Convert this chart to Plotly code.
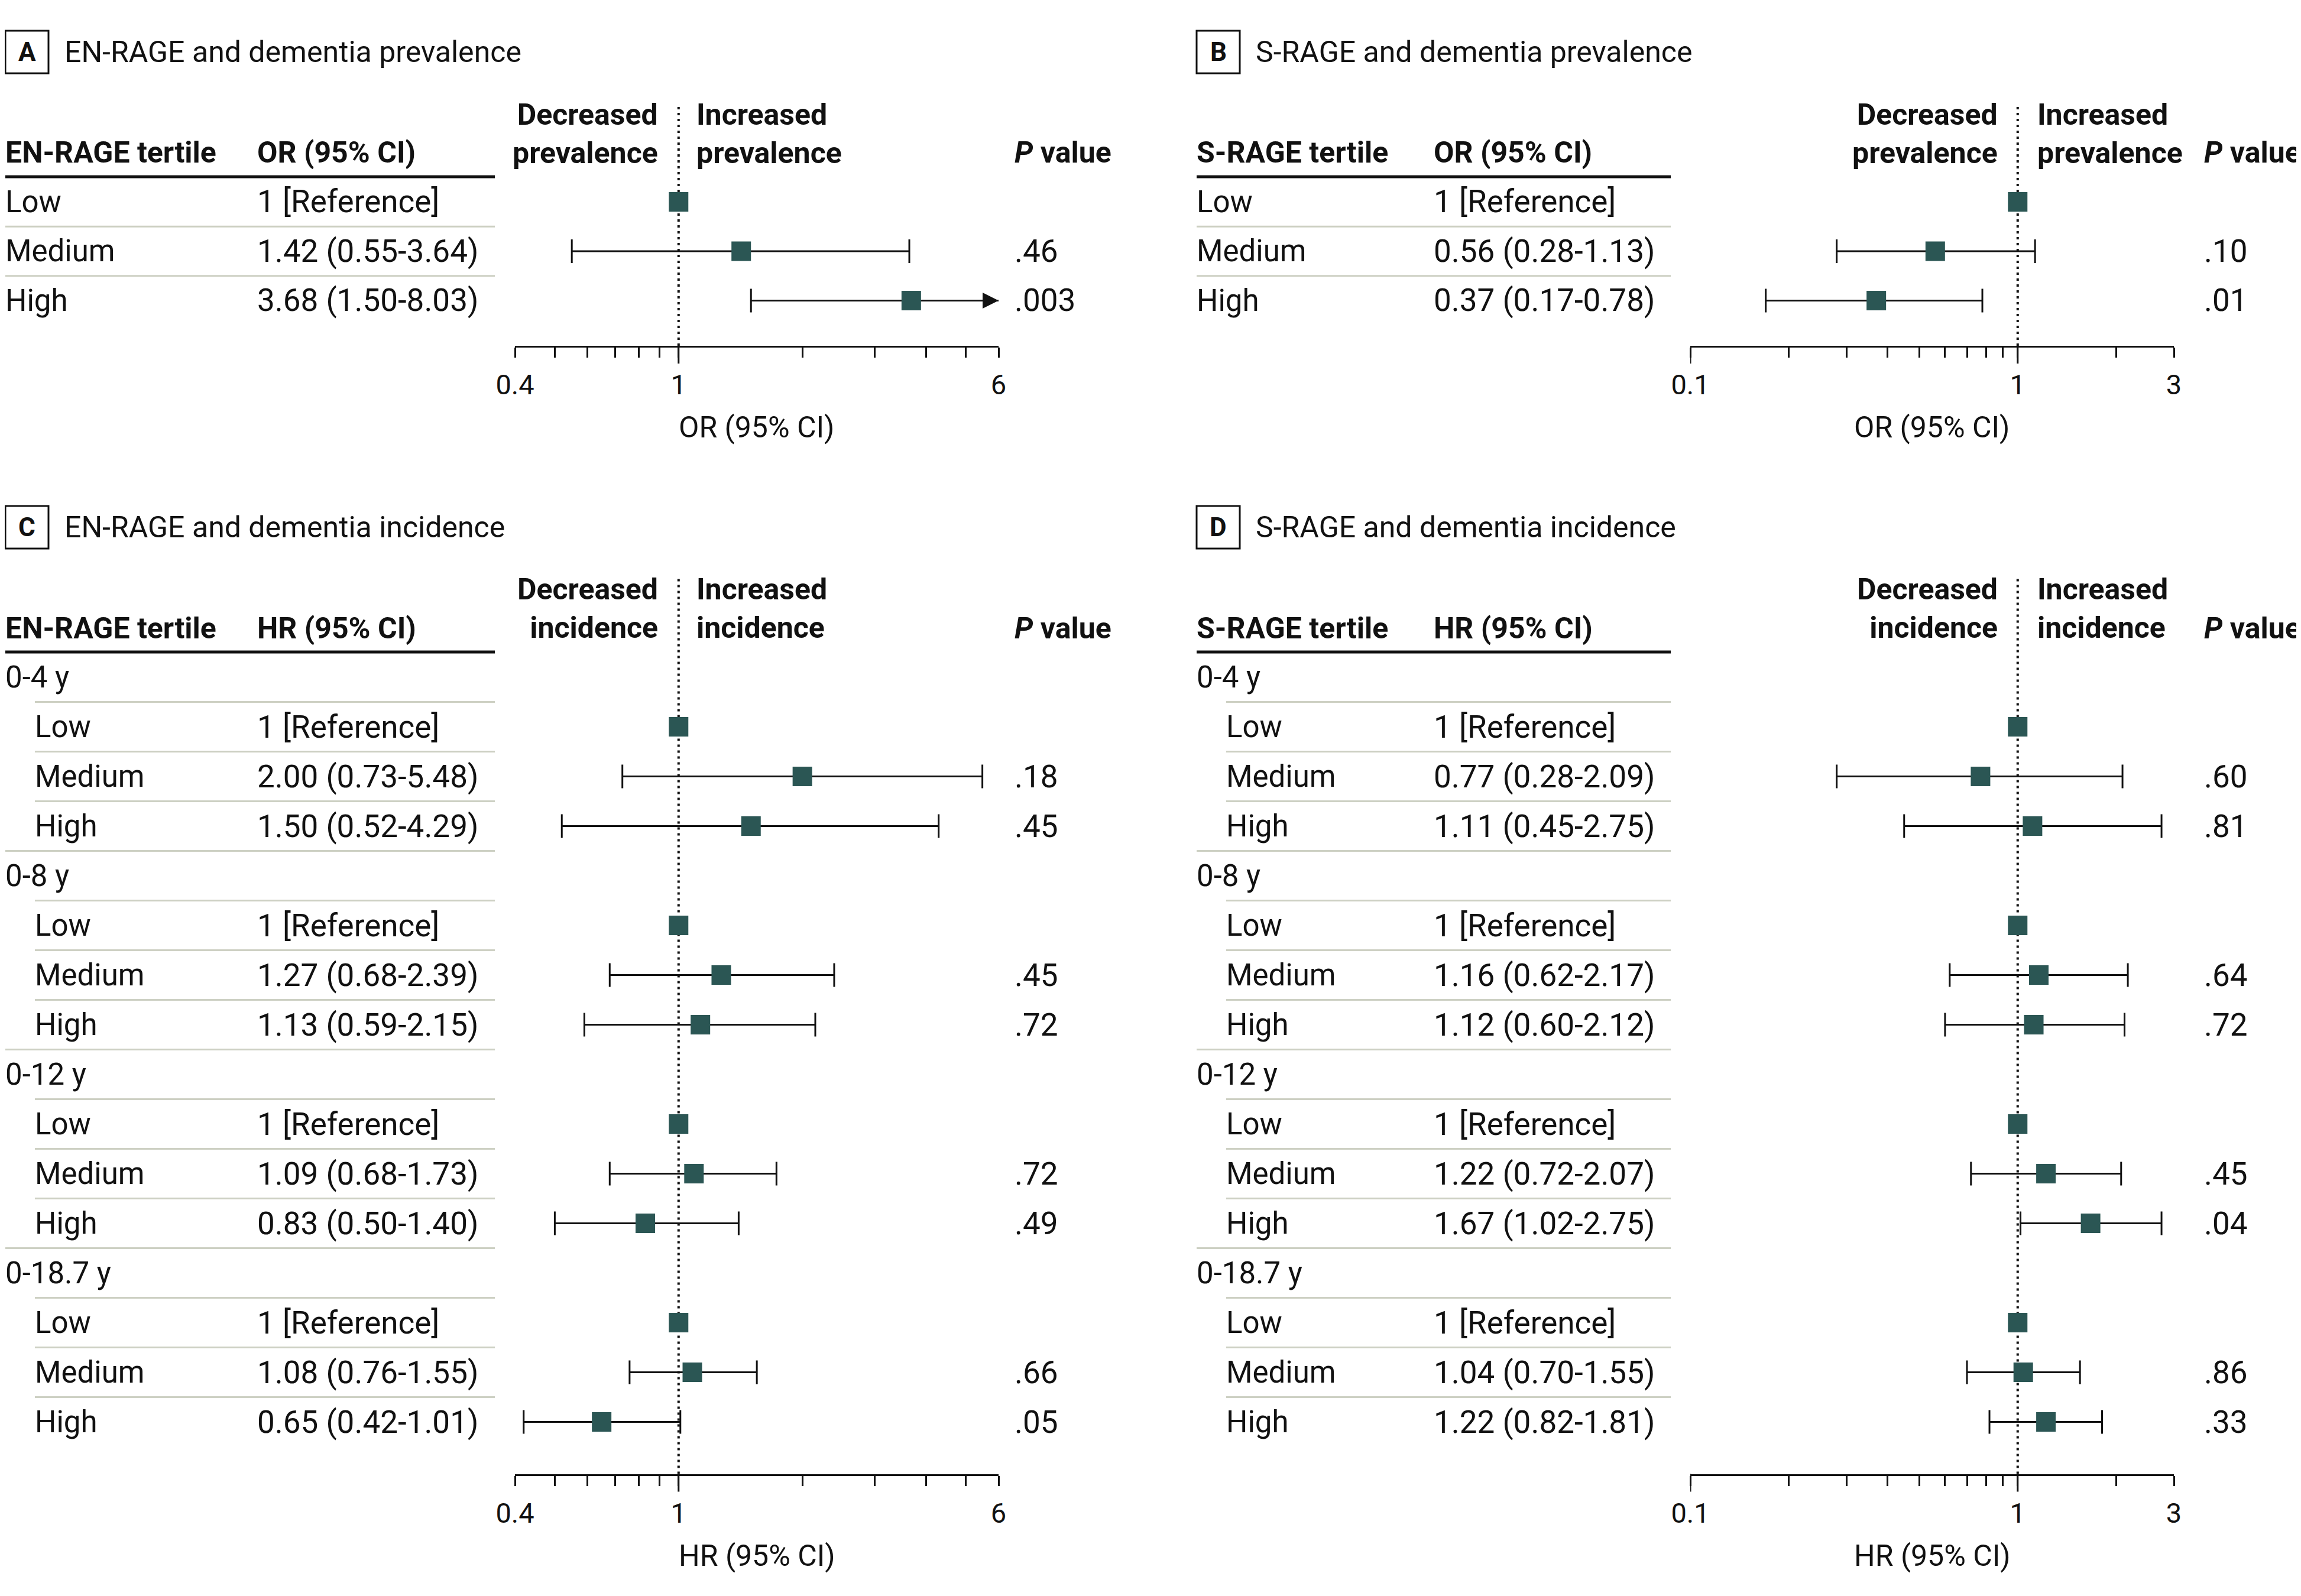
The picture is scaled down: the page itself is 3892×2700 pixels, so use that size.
import math
import plotly.graph_objects as go

W, H = 3892, 2700
OFF = 8  # page body margin compensation (px)
FONT = "Roboto"
INK = "#111111"
TEAL = "#2b5654"
RULE = "#cdd0c3"

# ---------------- data ----------------
tertiles = ["Low", "Medium", "High"]
periods = ["0-4 y", "0-8 y", "0-12 y", "0-18.7 y"]

# A: EN-RAGE and dementia prevalence (OR)
a_est = [1.0, 1.42, 3.68]
a_lo = [None, 0.55, 1.50]
a_hi = [None, 3.64, 8.03]
a_p = ["", ".46", ".003"]

# B: S-RAGE and dementia prevalence (OR)
b_est = [1.0, 0.56, 0.37]
b_lo = [None, 0.28, 0.17]
b_hi = [None, 1.13, 0.78]
b_p = ["", ".10", ".01"]

# C: EN-RAGE and dementia incidence (HR), per follow-up period
c_est = [1.0, 2.00, 1.50, 1.0, 1.27, 1.13, 1.0, 1.09, 0.83, 1.0, 1.08, 0.65]
c_lo = [None, 0.73, 0.52, None, 0.68, 0.59, None, 0.68, 0.50, None, 0.76, 0.42]
c_hi = [None, 5.48, 4.29, None, 2.39, 2.15, None, 1.73, 1.40, None, 1.55, 1.01]
c_p = ["", ".18", ".45", "", ".45", ".72", "", ".72", ".49", "", ".66", ".05"]

# D: S-RAGE and dementia incidence (HR), per follow-up period
d_est = [1.0, 0.77, 1.11, 1.0, 1.16, 1.12, 1.0, 1.22, 1.67, 1.0, 1.04, 1.22]
d_lo = [None, 0.28, 0.45, None, 0.62, 0.60, None, 0.72, 1.02, None, 0.70, 0.82]
d_hi = [None, 2.09, 2.75, None, 2.17, 2.12, None, 2.07, 2.75, None, 1.55, 1.81]
d_p = ["", ".60", ".81", "", ".64", ".72", "", ".45", ".04", "", ".86", ".33"]

# axis ticks
en_ticks = [0.4, 0.5, 0.6, 0.7, 0.8, 0.9, 1, 2, 3, 4, 5, 6]
en_labels = ["0.4", "", "", "", "", "", "1", "", "", "", "", "6"]
s_ticks = [0.1, 0.2, 0.3, 0.4, 0.5, 0.6, 0.7, 0.8, 0.9, 1, 2, 3]
s_labels = ["0.1", "", "", "", "", "", "", "", "", "1", "", "3"]


# ---------------- helpers ----------------
def X(px):
    return (px - OFF) / W


def Y(py):
    return 1 - (py - OFF) / H


def fmt_ci(est, lo, hi):
    if lo is None:
        return "1 [Reference]"
    return f"{est:.2f} ({lo:.2f}-{hi:.2f})"


def rows_simple(est, lo, hi, p):
    rows = []
    for i, t in enumerate(tertiles):
        rows.append(dict(label=t, indent=False, group=False, est=est[i], lo=lo[i], hi=hi[i], p=p[i]))
    return rows


def rows_grouped(est, lo, hi, p):
    rows = []
    for k, per in enumerate(periods):
        rows.append(dict(label=per, indent=False, group=True, est=None, lo=None, hi=None, p=""))
        for j, t in enumerate(tertiles):
            i = 3 * k + j
            rows.append(dict(label=t, indent=True, group=False, est=est[i], lo=lo[i], hi=hi[i], p=p[i]))
    return rows


annotations = []
shapes = []


def text(t, x, y, size=50, bold=False, xanchor="left", yanchor="middle", xref="paper",
         yref="paper", align="left"):
    if bold:
        t = f"<b>{t}</b>"
    annotations.append(dict(
        text=t, x=X(x) if xref == "paper" else x, y=Y(y) if yref == "paper" else y,
        xref=xref, yref=yref, xanchor=xanchor, yanchor=yanchor, align=align,
        showarrow=False, borderpad=0, borderwidth=0,
        font=dict(family=FONT, size=size, color=INK)))


panels = [
    dict(n=1, letter="A", title="EN-RAGE and dementia prevalence", h1="EN-RAGE tertile",
         h2="OR (95% CI)", effect="prevalence", rows=rows_simple(a_est, a_lo, a_hi, a_p),
         xr=(0.4, 6), ticks=en_ticks, labels=en_labels, decades=[1],
         left=9, col2=435, rule_end=837, ax0=871, ax1=1689, dec=1113, inc=1178, pcol=1716,
         dy=0, rowh=83.5, axis_y=585),
    dict(n=2, letter="B", title="S-RAGE and dementia prevalence", h1="S-RAGE tertile",
         h2="OR (95% CI)", effect="prevalence", rows=rows_simple(b_est, b_lo, b_hi, b_p),
         xr=(0.1, 3), ticks=s_ticks, labels=s_labels, decades=[0.1, 1],
         left=2024, col2=2425, rule_end=2826, ax0=2859, ax1=3677, dec=3379, inc=3446, pcol=3728,
         dy=0, rowh=83.5, axis_y=585),
    dict(n=3, letter="C", title="EN-RAGE and dementia incidence", h1="EN-RAGE tertile",
         h2="HR (95% CI)", effect="incidence", rows=rows_grouped(c_est, c_lo, c_hi, c_p),
         xr=(0.4, 6), ticks=en_ticks, labels=en_labels, decades=[1],
         left=9, col2=435, rule_end=837, ax0=871, ax1=1689, dec=1113, inc=1178, pcol=1716,
         dy=804, rowh=84, axis_y=2493.5),
    dict(n=4, letter="D", title="S-RAGE and dementia incidence", h1="S-RAGE tertile",
         h2="HR (95% CI)", effect="incidence", rows=rows_grouped(d_est, d_lo, d_hi, d_p),
         xr=(0.1, 3), ticks=s_ticks, labels=s_labels, decades=[0.1, 1],
         left=2024, col2=2425, rule_end=2826, ax0=2859, ax1=3677, dec=3379, inc=3446, pcol=3728,
         dy=804, rowh=84, axis_y=2493.5),
]

fig = go.Figure()
layout_axes = {}

for P in panels:
    n = P["n"]
    xa = "x" if n == 1 else f"x{n}"
    ya = "y" if n == 1 else f"y{n}"
    xkey = "xaxis" if n == 1 else f"xaxis{n}"
    ykey = "yaxis" if n == 1 else f"yaxis{n}"
    dy = P["dy"]
    row0 = 341.5 + dy
    rowh = P["rowh"]
    top = 175 + dy
    axis_y = P["axis_y"]
    rows = P["rows"]
    ind = 50

    # --- panel label box and title ---
    shapes.append(dict(type="rect", xref="paper", yref="paper",
                       x0=X(P["left"]), x1=X(P["left"] + 73), y0=Y(52 + dy), y1=Y(124 + dy),
                       line=dict(color=INK, width=3)))
    text(P["letter"], P["left"] + 36.5, 88 + dy, size=44, bold=True, xanchor="center")
    text(P["title"], P["left"] + 100, 88 + dy, size=50)

    # --- column headers ---
    text(P["h1"], P["left"], 258.5 + dy, bold=True)
    text(P["h2"], P["col2"], 258.5 + dy, bold=True)
    text("<i>P</i> value", P["pcol"], 258.5 + dy, bold=True)
    text(f"Decreased<br>{P['effect']}", P["dec"], 226 + dy, bold=True, xanchor="right", align="right")
    text(f"Increased<br>{P['effect']}", P["inc"], 226 + dy, bold=True, xanchor="left", align="left")
    shapes.append(dict(type="line", xref="paper", yref="paper",
                       x0=X(P["left"]), x1=X(P["rule_end"]), y0=Y(299 + dy), y1=Y(299 + dy),
                       line=dict(color=INK, width=5)))

    # --- table rows ---
    for i, r in enumerate(rows):
        yv = -i
        lx = P["left"] + (ind if r["indent"] else 0)
        text(r["label"], lx, yv, yref=ya, size=51)
        if not r["group"]:
            text(fmt_ci(r["est"], r["lo"], r["hi"]), P["col2"], yv, yref=ya, size=53)
            if r["p"]:
                text(r["p"], P["pcol"], yv, yref=ya, size=53)
        if i > 0:
            sx = P["left"] + (ind if r["indent"] else 0)
            shapes.append(dict(type="line", xref="paper", yref=ya,
                               x0=X(sx), x1=X(P["rule_end"]), y0=-(i - 0.5), y1=-(i - 0.5),
                               line=dict(color=RULE, width=3)))

    # --- forest plot traces ---
    ref_x, ref_y = [], []
    ci_x, ci_y, e_plus, e_minus = [], [], [], []
    for i, r in enumerate(rows):
        if r["group"]:
            continue
        if r["lo"] is None:
            ref_x.append(r["est"])
            ref_y.append(-i)
        else:
            ci_x.append(r["est"])
            ci_y.append(-i)
            e_plus.append(r["hi"] - r["est"])
            e_minus.append(r["est"] - r["lo"])
            if r["hi"] > P["xr"][1]:
                annotations.append(dict(
                    x=math.log10(P["xr"][1]), y=-i, xref=xa, yref=ya, text="",
                    showarrow=True, ax=-80, ay=0, arrowhead=2, arrowsize=1.8,
                    arrowwidth=3, arrowcolor=INK, standoff=0))
    fig.add_trace(go.Scatter(
        x=ci_x, y=ci_y, xaxis=xa, yaxis=ya, mode="markers",
        marker=dict(symbol="square", size=33, color=TEAL, line=dict(width=0)),
        error_x=dict(type="data", array=e_plus, arrayminus=e_minus, symmetric=False,
                     color=INK, thickness=3, width=20),
        hoverinfo="skip", showlegend=False))
    fig.add_trace(go.Scatter(
        x=ref_x, y=ref_y, xaxis=xa, yaxis=ya, mode="markers",
        marker=dict(symbol="square", size=33, color=TEAL, line=dict(width=0)),
        hoverinfo="skip", showlegend=False))

    # reference (null) line at ratio = 1 (shape positions on log axes are data values)
    shapes.append(dict(type="line", xref=xa, yref=f"{ya} domain", x0=1, x1=1, y0=0, y1=1,
                       line=dict(color=INK, width=4, dash="4px,6px"), layer="below"))
    # longer ticks at decades
    for d in P["decades"]:
        shapes.append(dict(type="line", xref=xa, yref="paper", x0=d, x1=d,
                           y0=Y(axis_y), y1=Y(axis_y + 30), line=dict(color=INK, width=3)))

    # axis title
    text(P["h2"], (P["ax0"] + P["ax1"]) / 2, axis_y + 138, size=50, xanchor="center")

    layout_axes[xkey] = dict(
        type="log", range=[math.log10(P["xr"][0]), math.log10(P["xr"][1])],
        domain=[X(P["ax0"]), X(P["ax1"])], anchor=ya,
        showline=True, linecolor=INK, linewidth=3, ticks="outside", ticklen=17, tickwidth=3,
        tickcolor=INK, tickmode="array", tickvals=P["ticks"], ticktext=P["labels"],
        tickfont=dict(family=FONT, size=47, color=INK), ticklabelstandoff=6,
        showgrid=False, zeroline=False, fixedrange=True, automargin=False)
    ylo = -(axis_y - row0) / rowh
    yhi = -(top - row0) / rowh
    layout_axes[ykey] = dict(domain=[Y(axis_y), Y(top)], range=[ylo, yhi], visible=False,
                             anchor=xa, fixedrange=True, automargin=False)

fig.update_layout(
    width=W, height=H, margin=dict(l=0, r=0, t=0, b=0, pad=0, autoexpand=False),
    paper_bgcolor="white", plot_bgcolor="rgba(0,0,0,0)", showlegend=False,
    font=dict(family=FONT, color=INK),
    annotations=annotations, shapes=shapes, **layout_axes)

fig.write_html("out.html")
